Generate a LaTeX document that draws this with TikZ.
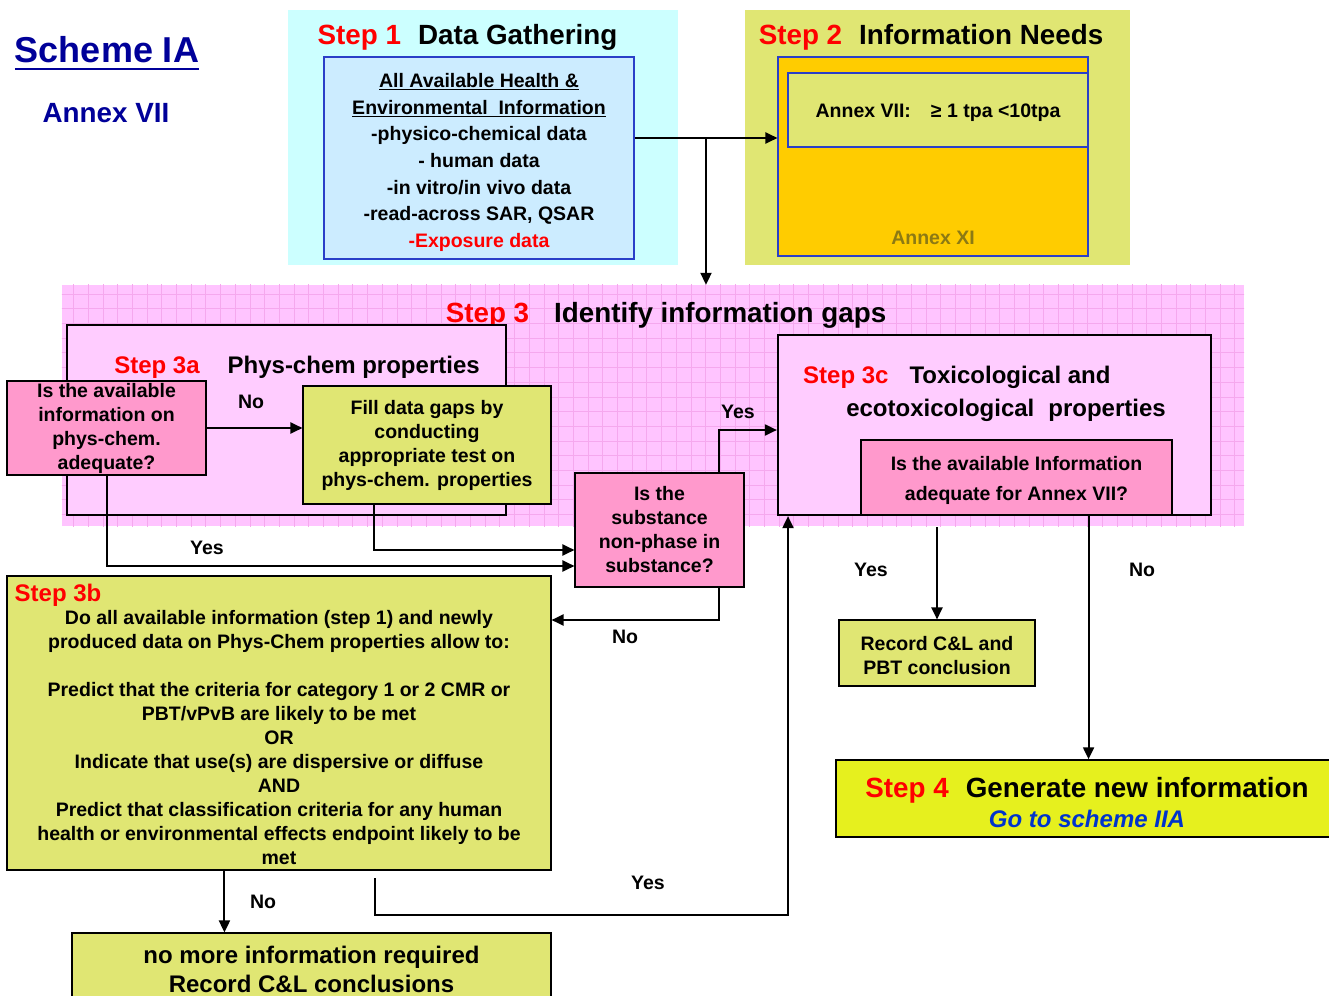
\documentclass[tikz,border=0pt]{standalone}
\usepackage{fontspec}
\setmainfont{Liberation Sans}
\usetikzlibrary{arrows.meta}
\definecolor{cyanbg}{HTML}{CCFFFF}
\definecolor{sonefill}{HTML}{CCECFF}
\definecolor{bborder}{HTML}{2A3FC8}
\definecolor{yg}{HTML}{E0E673}
\definecolor{orng}{HTML}{FFCC00}
\definecolor{annexxi}{HTML}{8C7A14}
\definecolor{pinkbg}{HTML}{FFC4FF}
\definecolor{pinkgrid}{HTML}{F5A8EE}
\definecolor{lpink}{HTML}{FFCCFF}
\definecolor{qpink}{HTML}{FF99CC}
\definecolor{sfour}{HTML}{E6F01E}
\definecolor{rd}{HTML}{FF0000}
\definecolor{navy}{HTML}{000099}
\definecolor{itblue}{HTML}{0033CC}
\newcommand\fsA{\fontsize{27.8}{30}\selectfont\bfseries}
\newcommand\fsB{\fontsize{24}{29}\selectfont\bfseries}
\newcommand\fsC{\fontsize{19.5}{24}\selectfont\bfseries}
\begin{document}
\begin{tikzpicture}[x=1pt,y=-1pt,
  bx/.style={draw=black, line width=1.1pt, inner sep=0pt, align=center, font=\fsC},
  bluebx/.style={draw=bborder, line width=1.1pt, inner sep=0pt, align=center, font=\fsC},
  plain/.style={draw=none, inner sep=0pt},
  tt/.style={inner sep=0pt, align=center, font=\fsC},
  ttl/.style={inner sep=0pt, font=\fsA},
  lbl/.style={inner sep=0pt, font=\fsC},
  arr/.style={line width=2pt, -{Triangle[length=12pt,width=11pt]}},
  ln/.style={line width=2pt}]
\useasboundingbox (0,0) rectangle (1329,995);

% Header
\node[tt, font=\fontsize{36}{40}\selectfont\bfseries, text=navy] (sch) at (107,50) {Scheme IA};
\draw[navy, line width=2.6pt] ([yshift=-6pt]sch.base west) -- ([yshift=-6pt]sch.base east);
\node[tt, font=\fontsize{27.8}{30}\selectfont\bfseries, text=navy] (annex) at (106,113) {Annex VII};

% Step 1
\node[plain, fill=cyanbg, minimum width=390, minimum height=255] (s1bg) at (483,137.5) {};
\node[ttl] (s1t) at (467.5,37) {\textcolor{rd}{Step 1}\hspace{17pt}Data Gathering};
\node[bluebx, fill=sonefill, minimum width=310, minimum height=202] (s1) at (479,158) {};
\node[tt, font=\fontsize{19.5}{26.7}\selectfont\bfseries] (s1text) at (479,162.5)
 {\underline{All Available Health \&}\\ \underline{Environmental\ \ Information}\\ -physico-chemical data\\ - human data\\ -in vitro/in vivo data\\ -read-across SAR, QSAR\\ \textcolor{rd}{-Exposure data}};

% Step 2
\node[plain, fill=yg, minimum width=385, minimum height=255] (s2bg) at (937.5,137.5) {};
\node[ttl] (s2t) at (931,37) {\textcolor{rd}{Step 2}\hspace{17pt}Information Needs};
\node[bluebx, fill=orng, minimum width=310, minimum height=199] (s2o) at (933,156.5) {};
\node[bluebx, fill=yg, minimum width=300, minimum height=74] (s2i) at (938,110) {};
\node[tt] (s2itext) at (938,112.5) {Annex VII:\hspace{20pt}≥ 1 tpa <10tpa};
\node[tt, text=annexxi] (axi) at (933,238) {Annex XI};

% Step 3 background with grid
\node[plain, fill=pinkbg, minimum width=1182, minimum height=241] (s3bg) at (653,405.5) {};
\begin{scope}
  \clip (s3bg.north west) rectangle (s3bg.south east);
  \draw[pinkgrid, line width=0.7pt, step=14.7pt] (40,270) grid (1260,540);
\end{scope}
\node[ttl] (s3t) at (666,315) {\textcolor{rd}{Step 3}\hspace{25pt}Identify information gaps};

% Step 3a
\node[draw=black, line width=2.2pt, fill=lpink, inner sep=0pt, minimum width=439, minimum height=190] (s3a) at (286.5,420) {};
\node[inner sep=0pt, font=\fsB] (s3at) at (297,367) {\textcolor{rd}{Step 3a}\hspace{28pt}Phys-chem properties};
\node[bx, fill=qpink, minimum width=199, minimum height=94] (q3a) at (106.5,428) {Is the available\\ information on\\ phys-chem.\\ adequate?};
\node[bx, fill=yg, minimum width=248, minimum height=118] (fill) at (427,445) {Fill data gaps by\\ conducting\\ appropriate test on\\ phys-chem. properties};

% Substance question
\node[bx, fill=qpink, minimum width=169, minimum height=114] (subs) at (659.5,530) {Is the\\ substance\\ non-phase in\\ substance?};

% Step 3c
\node[draw=black, line width=2.2pt, fill=lpink, inner sep=0pt, minimum width=433, minimum height=180] (s3c) at (994.5,425) {};
\node[inner sep=0pt, font=\fsB, anchor=west] (s3ct1) at (803,377) {\textcolor{rd}{Step 3c}\hspace{21pt}Toxicological and};
\node[inner sep=0pt, font=\fsB] (s3ct2) at (1006,410) {ecotoxicological\hspace{14pt}properties};
\node[bx, fill=qpink, minimum width=311, minimum height=75] (q3c) at (1016.5,477.5) {};
\node[tt, font=\fontsize{19.5}{30}\selectfont\bfseries] (q3ctext) at (1016.5,480.5) {Is the available Information\\ adequate for Annex VII?};

% Record and Step 4
\node[bx, fill=yg, minimum width=196, minimum height=66] (rec) at (937,653) {};
\node[tt] (rectext) at (937,656) {Record C\&L and\\ PBT conclusion};
\node[bx, fill=sfour, line width=1.5pt, minimum width=499, minimum height=77] (s4) at (1085.5,798.5) {};
\node[inner sep=0pt, align=center, font=\fontsize{27.8}{30}\selectfont\bfseries] (s4t) at (1087,803)
 {\textcolor{rd}{Step 4}\hspace{17pt}Generate new information\\ {\fontsize{24}{30}\selectfont\bfseries\itshape\color{itblue}Go to scheme IIA}};

% Step 3b
\node[bx, fill=yg, minimum width=544, minimum height=294] (s3b) at (279,723) {};
\node[inner sep=0pt, font=\fsB, text=rd] (s3bt) at (58,595) {Step 3b};
\node[tt] (s3btext) at (279,738) {Do all available information (step 1) and newly\\ produced data on Phys-Chem properties allow to:\\[24pt] Predict that the criteria for category 1 or 2 CMR or\\ PBT/vPvB are likely to be met\\ OR\\ Indicate that use(s) are dispersive or diffuse\\ AND\\ Predict that classification criteria for any human\\ health or environmental effects endpoint likely to be\\ met};

% Bottom box
\node[bx, fill=yg, minimum width=479, minimum height=66] (bot) at (311.5,966) {};
\node[tt, font=\fsB] (bottext) at (311.5,969) {no more information required\\ Record C\&L conclusions};

% Connectors
\coordinate (j) at (706,138);
\draw[ln] (s1.east |- j) -- (j);
\draw[arr] (j) -- (j -| s2o.west);
\draw[arr] (j) -- (j |- s3bg.north);

\draw[arr] (q3a.east) -- (q3a.east -| fill.west);
\node[lbl] (lno1) at (251,402) {No};
\draw[arr] ([xshift=72pt]fill.south west) |- ([yshift=-20pt]subs.west);
\draw[arr] (q3a.south) |- ([yshift=-36pt]subs.west);
\node[lbl] (lyes1) at (207,548) {Yes};

\draw[arr] ([xshift=-26pt]subs.north east) |- ([yshift=-5pt]s3c.west);
\node[lbl] (lyes2) at (738,412) {Yes};
\draw[arr] ([xshift=-26pt]subs.south east) |- ([yshift=103pt]s3b.east);
\node[lbl] (lno2) at (625,637) {No};

\coordinate (ys) at (937,527);
\draw[arr] (ys) -- (rec.north);
\node[lbl] (lyes3) at (871,570) {Yes};
\draw[arr] ([xshift=-84pt]q3c.south east) -- ([xshift=-84pt]q3c.south east |- s4.north);
\node[lbl] (lno3) at (1142,570) {No};

\draw[arr] ([xshift=218pt]s3b.south west) -- ([xshift=218pt]s3b.south west |- bot.north);
\node[lbl] (lno4) at (263,902) {No};

\coordinate (ystart) at (375,878);
\coordinate (ycorner) at (788,915);
\draw[arr] (ystart) |- (ycorner) -- (ycorner |- s3c.south);
\node[lbl] (lyes4) at (648,883) {Yes};
\end{tikzpicture}
\end{document}
